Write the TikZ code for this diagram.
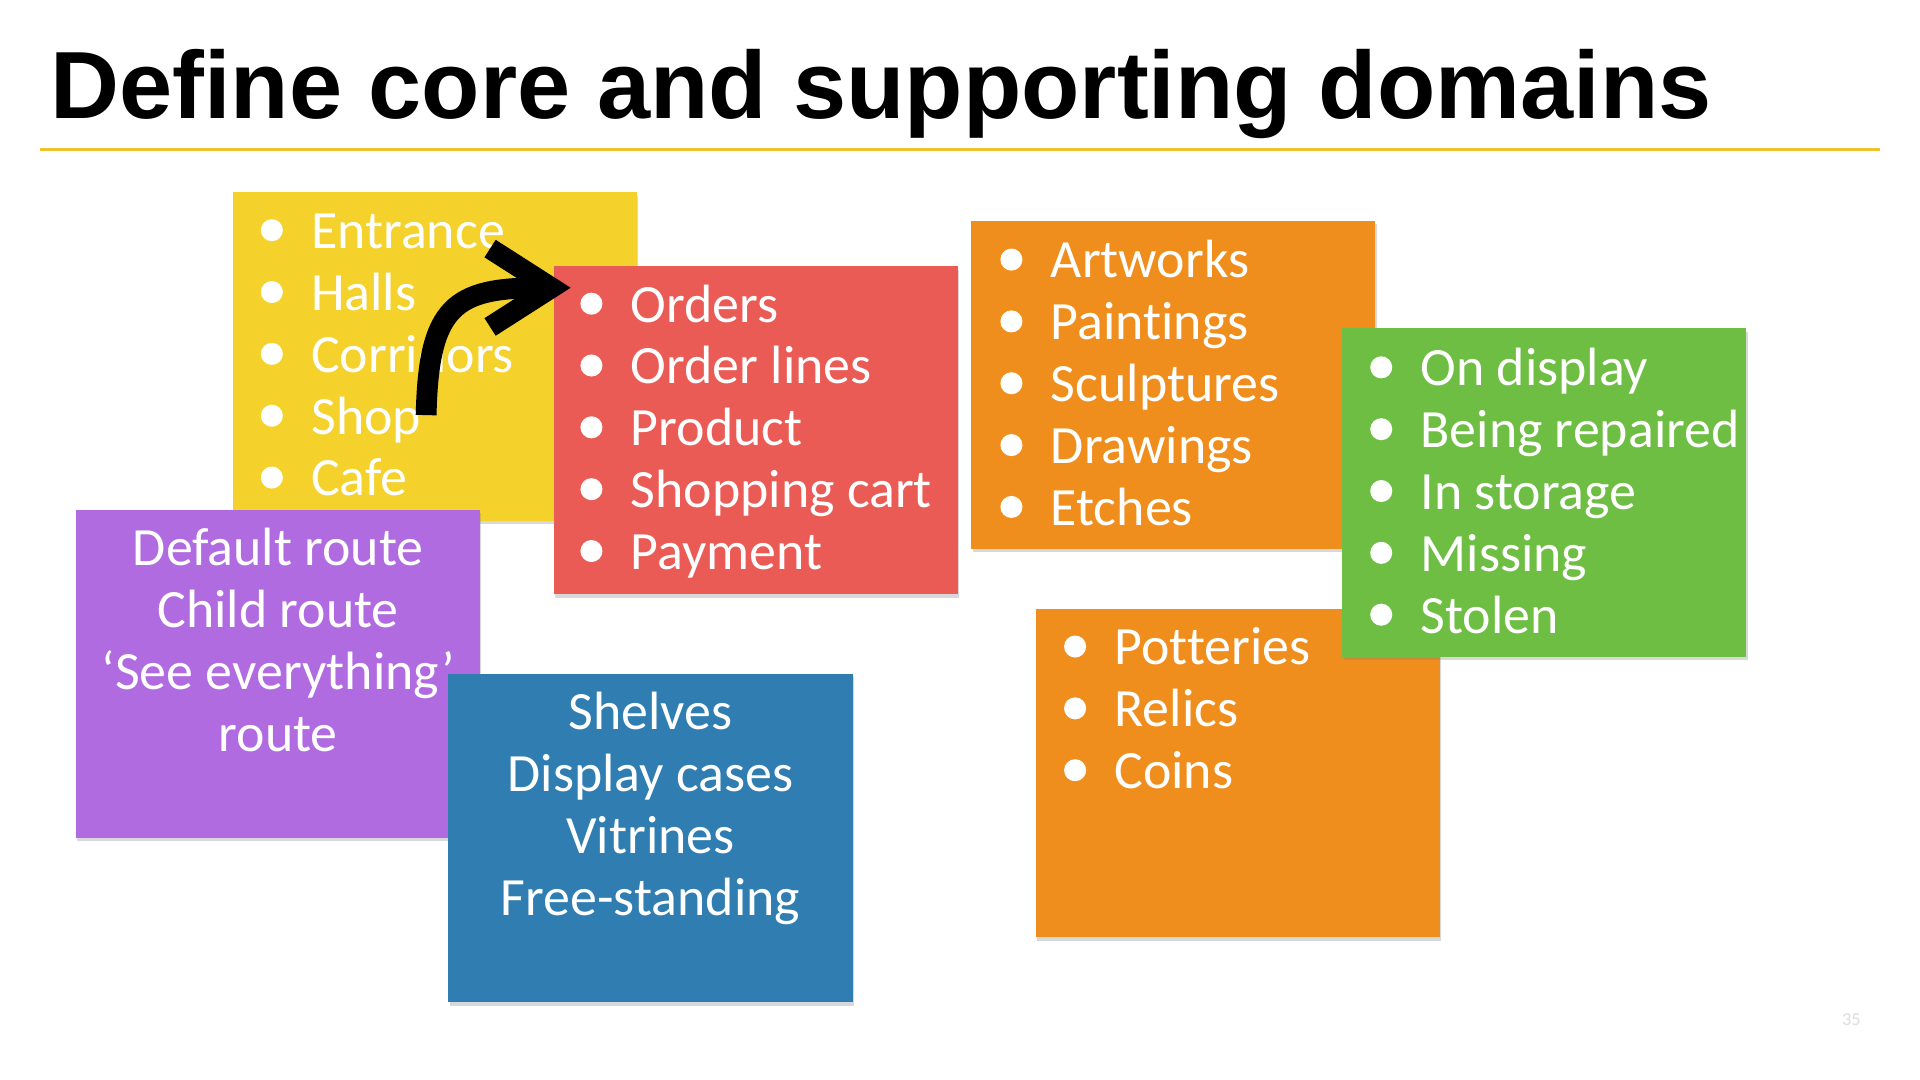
\documentclass[tikz,border=0pt]{standalone}
\usepackage{fontspec}
\setmainfont{Carlito}[Ligatures=CommonOff]
\newfontfamily\titlefont{Liberation Sans}
\usetikzlibrary{arrows.meta,calc,shadows}

\definecolor{cardyellow}{HTML}{F4D12B}
\definecolor{cardred}{HTML}{EB5B55}
\definecolor{cardpurple}{HTML}{B06BE0}
\definecolor{cardblue}{HTML}{2F7DB1}
\definecolor{cardorange}{HTML}{F08E1D}
\definecolor{cardgreen}{HTML}{6DBE43}
\definecolor{rulegold}{HTML}{F0C22E}
\definecolor{pagegray}{HTML}{DDDDDD}

\begin{document}
\begin{tikzpicture}[
            x=1pt, y=-1pt,
            card/.style={rectangle, anchor=north west, inner sep=0pt,
                minimum width=330, minimum height=268,
                drop shadow={shadow xshift=1pt, shadow yshift=-3pt, opacity=0.3}},
            item/.style={anchor=base west, inner sep=0pt, text=white,
                font=\fontsize{44}{50}\selectfont},
            line/.style={anchor=base, inner sep=0pt, text=white,
                font=\fontsize{44}{50}\selectfont},
            dot/.style={fill=white}
        ]

        \fill[white] (0,0) rectangle (1568,882);
        \useasboundingbox (0,0) rectangle (1568,882);

        % Title and rule
        \node[anchor=base west, inner sep=0pt,
            font=\titlefont\bfseries\fontsize{78}{80}\selectfont] (title) at (41,97)
            {Define core and supporting domains};
        \draw[rulegold, line width=2.2] (33,122) -- (1535,122);

        % Spaces
        \node[card, fill=cardyellow] (spaces) at (190,157) {};
        \foreach \txt [count=\i from 0] in {Entrance, Halls, Corridors, Shop, Cafe} {
            \node[item] (spaces-\i) at ($(spaces.north west)+(64,46+50.5*\i)$) {\txt};
            \fill[dot] ($(spaces-\i.base west)+(-32,-15)$) circle (9pt);
        }

        % Shop
        \node[card, fill=cardred] (shop) at (452,217) {};
        \foreach \txt [count=\i from 0] in {Orders, Order lines, Product, Shopping cart, Payment} {
            \node[item] (shop-\i) at ($(shop.north west)+(63,46+50.5*\i)$) {\txt};
            \fill[dot] ($(shop-\i.base west)+(-32,-15)$) circle (9pt);
        }

        % Arrow from spaces to shop
        \coordinate (arrow-start) at (348,339);
        \coordinate (arrow-tip) at ($(shop.north west)+(14,18)$);
        \draw[line width=17, -{Straight Barb[length=50pt, width=64pt]}]
            (arrow-start) .. controls +(2,-89) and +(-95,0) .. (arrow-tip);

        % Routes
        \node[card, fill=cardpurple] (routes) at (62,416) {};
        \foreach \txt [count=\i from 0] in {Default route, Child route, ‘See everything’, route} {
            \node[line] (routes-\i) at ($(routes.north)+(0,46+50.5*\i)$) {\txt};
        }

        % Fittings
        \node[card, fill=cardblue] (fittings) at (366,550) {};
        \foreach \txt [count=\i from 0] in {Shelves, Display cases, Vitrines, Free-standing} {
            \node[line] (fittings-\i) at ($(fittings.north)+(0,46+50.5*\i)$) {\txt};
        }

        % Artworks
        \node[card, fill=cardorange] (artworks) at (793,180) {};
        \foreach \txt [count=\i from 0] in {Artworks, Paintings, Sculptures, Drawings, Etches} {
            \node[item] (artworks-\i) at ($(artworks.north west)+(65,47+50.5*\i)$) {\txt};
            \fill[dot] ($(artworks-\i.base west)+(-32,-15)$) circle (9pt);
        }

        % Objects
        \node[card, fill=cardorange] (objects) at (846,497) {};
        \foreach \txt [count=\i from 0] in {Potteries, Relics, Coins} {
            \node[item] (objects-\i) at ($(objects.north west)+(64,46+50.5*\i)$) {\txt};
            \fill[dot] ($(objects-\i.base west)+(-32,-15)$) circle (9pt);
        }

        % Status
        \node[card, fill=cardgreen] (status) at (1096,268) {};
        \foreach \txt [count=\i from 0] in {On display, Being repaired, In storage, Missing, Stolen} {
            \node[item] (status-\i) at ($(status.north west)+(64,47+50.5*\i)$) {\txt};
            \fill[dot] ($(status-\i.base west)+(-32,-15)$) circle (9pt);
        }

        % Page number
        \node[inner sep=0pt, text=pagegray, font=\fontsize{15}{15}\selectfont] (pagenum) at (1512,833) {35};
        \end{tikzpicture}
\end{document}
